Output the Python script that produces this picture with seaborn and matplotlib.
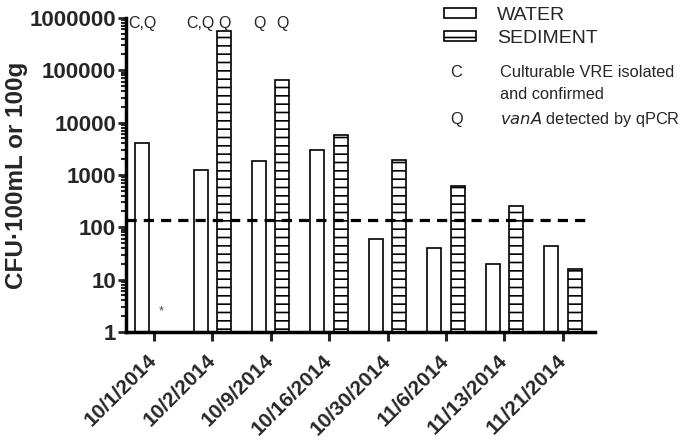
import numpy as np
import pandas as pd
import matplotlib
matplotlib.use("Agg")
import matplotlib.pyplot as plt
import seaborn as sns
from matplotlib.patches import Patch

# Datos
fechas = ['10/1/2014', '10/2/2014', '10/9/2014', '10/16/2014',
          '10/30/2014', '11/6/2014', '11/13/2014', '11/21/2014']
agua = [4000, 1240, 1830, 2960, 59, 41, 19.5, 43]
sedimento = [np.nan, 550000, 65000, 5700, 1900, 610, 255, 15.6]
umbral = 140
# marcas C / Q sobre las barras: (fecha, muestra, texto)
marcas = [(0, 'WATER', 'C,Q'), (1, 'WATER', 'C,Q'), (1, 'SEDIMENT', 'Q'),
          (2, 'WATER', 'Q'), (2, 'SEDIMENT', 'Q')]

df = pd.DataFrame({
    'Fecha': fechas * 2,
    'Muestra': ['WATER'] * len(fechas) + ['SEDIMENT'] * len(fechas),
    'Valor': agua + sedimento,
})

sns.set_style("white")
plt.rcParams['font.family'] = ['Liberation Sans', 'DejaVu Sans']
plt.rcParams['hatch.linewidth'] = 1.2

fig = plt.figure(figsize=(6.8, 4.45), dpi=100)
ax = fig.add_axes([0.185, 0.254, 0.69, 0.706])

sns.barplot(data=df, x='Fecha', y='Valor', hue='Muestra', order=fechas,
            hue_order=['WATER', 'SEDIMENT'], palette=['white', 'white'],
            gap=0.4, edgecolor='black', linewidth=1.2, legend=False, ax=ax)

for bar in ax.containers[1]:
    bar.set_hatch('--')

ax.set_yscale('log')
ax.set_ylim(1, 1000000)
ax.set_xlim(-0.48, 7.55)
ax.set_yticks([1, 10, 100, 1000, 10000, 100000, 1000000])
ax.set_yticklabels(['1', '10', '100', '1000', '10000', '100000', '1000000'],
                   fontsize=16, fontweight='bold')
ax.set_xticks(range(len(fechas)))
ax.set_xticklabels(fechas, rotation=45, ha='right', va='center', rotation_mode='anchor',
                   fontsize=15, fontweight='bold')
ax.set_xlabel('')
ax.set_ylabel('CFU·100mL or 100g', fontsize=17.5, fontweight='bold', labelpad=1)

for s in ['top', 'right']:
    ax.spines[s].set_visible(False)
for s in ['left', 'bottom']:
    ax.spines[s].set_linewidth(2.5)
    ax.spines[s].set_color('black')
ax.tick_params(axis='y', which='major', length=6, width=2, direction='out', left=True, pad=1)
ax.tick_params(axis='y', which='minor', length=3.5, width=1.5, direction='out', left=True)
ax.tick_params(axis='x', which='major', length=6.5, width=2.2, direction='out', bottom=True, pad=12)

ax.axhline(umbral, xmin=0, xmax=0.985, color='black', lw=2.3, ls=(0, (3.2, 2.2)))

# letras encima de las barras
desplaz = {'WATER': -0.2, 'SEDIMENT': 0.2}
for i, muestra, texto in marcas:
    ax.text(i + desplaz[muestra], 780000, texto, ha='center', va='center', fontsize=11.5)
ax.text(0.12, 2.5, '*', ha='center', va='center', fontsize=9, color='#444444')

# leyenda
handles = [Patch(facecolor='white', edgecolor='black', linewidth=1.2, label='WATER'),
           Patch(facecolor='white', edgecolor='black', linewidth=1.2, hatch='--', label='SEDIMENT')]
fig.legend(handles=handles, loc='upper left', bbox_to_anchor=(0.638, 1.007), frameon=False,
           borderpad=0, fontsize=14, handlelength=1.65, handleheight=0.42,
           handletextpad=1.1, labelspacing=0.32)
fig.text(0.662, 0.838, 'C', fontsize=11.8, va='center')
fig.text(0.736, 0.838, 'Culturable VRE isolated', fontsize=11.8, va='center')
fig.text(0.736, 0.787, 'and confirmed', fontsize=11.8, va='center')
fig.text(0.662, 0.731, 'Q', fontsize=11.8, va='center')
fig.text(0.736, 0.731, r'$\it{vanA}$ detected by qPCR', fontsize=11.8, va='center')

fig.savefig('out.png', dpi=100)
